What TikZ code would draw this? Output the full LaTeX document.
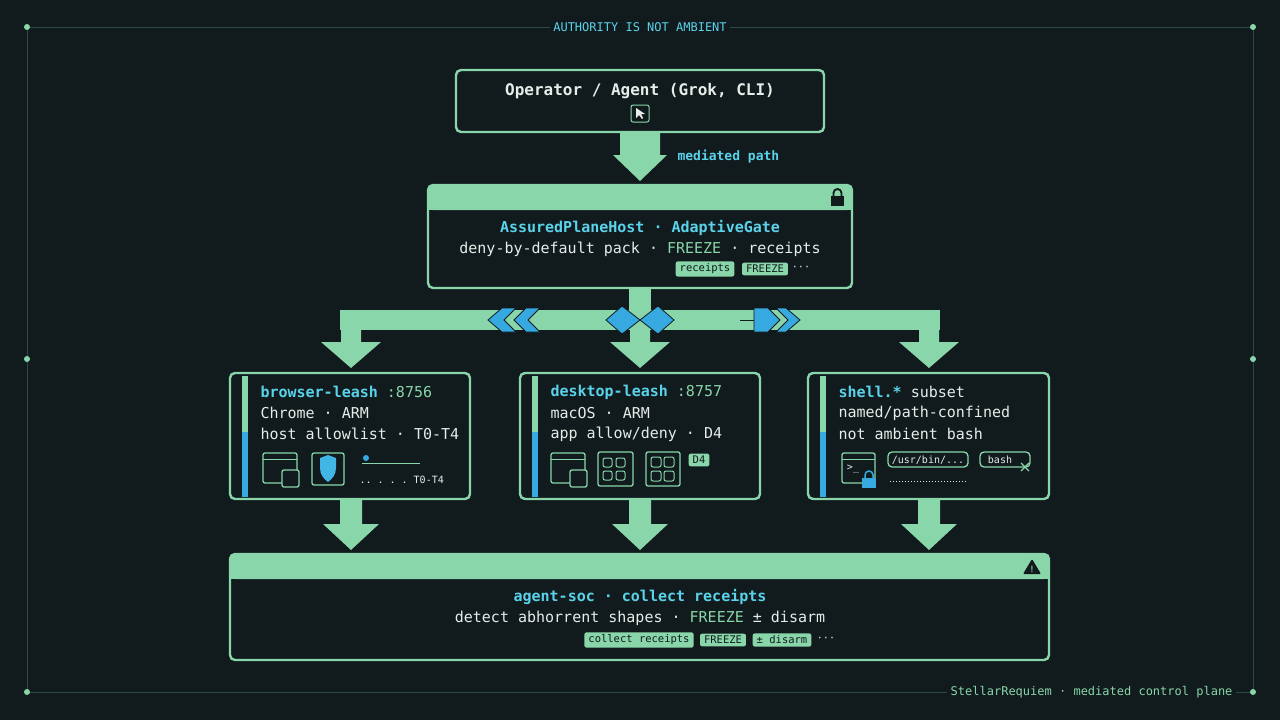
\documentclass[tikz,border=0pt]{standalone}
\usepackage{fontspec}
\setmonofont{DejaVu Sans Mono}
\usetikzlibrary{positioning}
\definecolor{bg}{HTML}{111A1D}
\definecolor{mint}{HTML}{88D6A9}
\definecolor{cyanx}{HTML}{5AD3EA}
\definecolor{bluex}{HTML}{36A9E1}
\definecolor{txt}{HTML}{E6ECE8}
\definecolor{dim}{HTML}{2E4A44}
\tikzset{
  panel/.style={draw=mint,line width=2.4pt,rounded corners=5pt,fill=bg},
  band/.style={fill=mint,rounded corners=5pt},
  fat/.style={fill=mint},
  chip/.style={fill=mint,rounded corners=2pt,text=bg,inner xsep=4pt,inner ysep=2.5pt,font=\ttfamily\fontsize{10.5}{12}\selectfont},
  hd/.style={text=cyanx,font=\ttfamily\bfseries\fontsize{15}{18}\selectfont},
  ln/.style={text=txt,font=\ttfamily\fontsize{15}{18}\selectfont},
  icon/.style={draw=mint,line width=1.3pt,rounded corners=2pt},
  chev/.style={fill=bluex,draw=bg,line width=0.8pt}
}
\begin{document}
\begin{tikzpicture}[x=1pt,y=-1pt]
    \fill[bg] (0,0) rectangle (1280,720);
    \useasboundingbox (0,0) rectangle (1280,720);
    %% frame
        \draw[dim,line width=0.8pt] (27,27) rectangle (1253,692);
        \foreach \p in {(27,27),(1253,27),(27,692),(1253,692),(27,359),(1253,359)}
            \fill[mint] \p circle (3);
        \node[fill=bg,text=cyanx,font=\ttfamily\fontsize{12}{14}\selectfont] (title) at (640,27) {AUTHORITY IS NOT AMBIENT};
        \node[fill=bg,anchor=east,text=mint,font=\ttfamily\fontsize{12}{14}\selectfont] (sign) at (1236,692) {StellarRequiem · mediated control plane};
    %% operator
        \draw[panel] (456,70) rectangle (824,132);
        \node[text=txt,font=\ttfamily\bfseries\fontsize{16}{19}\selectfont] (op) at (640,91) {Operator / Agent (Grok, CLI)};
        \draw[icon,line width=1pt] (631,105) rectangle (649,122);
        \fill[txt] (636,108) -- (636,118) -- (639,115) -- (642,119) -- (643,118) -- (641,114) -- (645,114) -- cycle;
        \fill[fat] (620,132) -- (660,132) -- (660,155) -- (667,155) -- (640,181) -- (613,155) -- (620,155) -- cycle;
        \node[anchor=west,text=cyanx,font=\ttfamily\bfseries\fontsize{13}{15}\selectfont] (med) at (674,157) {mediated path};
    %% gate
        \draw[panel] (428,185) rectangle (852,288);
        \fill[band] (428,185) rectangle (852,210);
        \fill[mint] (428,200) rectangle (852,210);
        \fill[bg] (831,196) rectangle (844,206);
        \draw[bg,line width=1.8pt] (833.5,196) -- (833.5,193) arc (180:360:4) -- (841.5,196);
        \node[hd] (gate) at (640,228) {AssuredPlaneHost · AdaptiveGate};
        \node[ln] (pack) at (640,249) {deny-by-default pack · \textcolor{mint}{FREEZE} · receipts};
        \node[chip] (c1) at (705,269) {receipts};
        \node[chip] (c2) at (765,269) {FREEZE};
        \node[text=txt,font=\ttfamily\fontsize{10}{12}\selectfont] (c3) at (801,268) {···};
    %% bus
        \fill[fat] (629,288) rectangle (651,312);
        \fill[fat] (340,310) rectangle (940,330);
        \foreach \cx in {351,640,929}{
            \fill[fat] (\cx-10,330) -- (\cx+10,330) -- (\cx+10,342) -- (\cx+30,342) -- (\cx,368) -- (\cx-30,342) -- (\cx-10,342) -- cycle;
            \fill[fat] (\cx-11,499) -- (\cx+11,499) -- (\cx+11,524) -- (\cx+28,524) -- (\cx,550) -- (\cx-28,524) -- (\cx-11,524) -- cycle;
        }
        \draw[chev] (488,320) -- (502,308) -- (516,308) -- (504,320) -- (516,332) -- (502,332) -- cycle;
        \draw[chev] (540,308) -- (526,308) -- (514,320) -- (526,332) -- (540,332) -- (528,320) -- cycle;
        \draw[chev] (606,320) -- (622,306) -- (640,320) -- (622,334) -- cycle;
        \draw[chev] (640,320) -- (658,306) -- (674,320) -- (658,334) -- cycle;
        \draw[bg,line width=1pt] (740,320) -- (760,320);
        \draw[chev] (754,308) -- (768,308) -- (780,320) -- (768,332) -- (754,332) -- cycle;
        \draw[chev] (776,308) -- (786,308) -- (800,320) -- (786,332) -- (776,332) -- (788,320) -- cycle;
    %% leashes
        \foreach \x/\w in {230/240,520/240,808/241}{
            \draw[panel] (\x,373) rectangle (\x+\w,499);
            \fill[mint] (\x+12,376) rectangle (\x+18,432);
            \fill[bluex] (\x+12,432) rectangle (\x+18,497);
        }
        \node[anchor=west,hd] (bl) at (257,392) {browser-leash \textcolor{mint}{\mdseries:8756}};
        \node[anchor=west,ln] (bl2) at (257,413) {Chrome · ARM};
        \node[anchor=west,ln] (bl3) at (257,434) {host allowlist · T0-T4};
        \draw[icon] (263,453) rectangle (297,483);
        \draw[mint,line width=1pt] (263,459) -- (297,459);
        \draw[icon,fill=bg] (282,470) rectangle (299,487);
        \draw[icon] (312,453) rectangle (344,485);
        \fill[bluex!70!cyanx] (320,458) -- (328,455) -- (336,458) -- (336,468) .. controls (336,475) and (332,479) .. (328,482) .. controls (324,479) and (320,475) .. (320,468) -- cycle;
        \draw[mint,line width=1pt] (362,463) -- (420,463);
        \fill[bluex] (366,458) circle (3);
        \node[anchor=west,text=txt,font=\ttfamily\fontsize{10}{12}\selectfont] (tt) at (356,480) {.. . . . T0-T4};
        \node[anchor=west,hd] (dl) at (547,392) {desktop-leash \textcolor{mint}{\mdseries:8757}};
        \node[anchor=west,ln] (dl2) at (547,413) {macOS · ARM};
        \node[anchor=west,ln] (dl3) at (547,434) {app allow/deny · D4};
        \draw[icon] (551,453) rectangle (585,483);
        \draw[mint,line width=1pt] (551,459) -- (585,459);
        \draw[icon,fill=bg] (570,470) rectangle (587,487);
        \draw[icon] (598,452) rectangle (633,486);
        \foreach \a/\b in {603/458,616/458,603/471,616/471}
            \draw[icon,line width=1pt] (\a,\b) rectangle (\a+9,\b+9);
        \draw[icon] (646,452) rectangle (680,486);
        \foreach \a/\b in {651/457,664/457,651/471,664/471}
            \draw[icon,line width=1pt] (\a,\b) rectangle (\a+10,\b+10);
        \node[chip] (d4) at (699,460) {D4};
        \node[anchor=west,hd] (sh) at (835,392) {shell.* \textcolor{txt}{\mdseries subset}};
        \node[anchor=west,ln] (sh2) at (835,413) {named/path-confined};
        \node[anchor=west,ln] (sh3) at (835,434) {not ambient bash};
        \draw[icon] (842,453) rectangle (875,483);
        \draw[mint,line width=1pt] (842,459) -- (875,459);
        \node[text=txt,font=\ttfamily\fontsize{10}{12}\selectfont] (pr) at (853,469) {>\_};
        \fill[bluex] (862,478) rectangle (876,488);
        \draw[bluex,line width=1.5pt] (865,478) -- (865,475) arc (180:360:4) -- (873,478);
        \draw[icon,rounded corners=4pt] (888,452) rectangle (968,467);
        \node[text=txt,font=\ttfamily\fontsize{10}{12}\selectfont] (path) at (928,460) {/usr/bin/...};
        \draw[icon,rounded corners=4pt] (980,452) rectangle (1030,467);
        \node[text=txt,font=\ttfamily\fontsize{10}{12}\selectfont] (bash) at (1000,460) {bash};
        \draw[mint,line width=1.3pt] (1021,463) -- (1029,471) (1029,463) -- (1021,471);
        \draw[txt,dotted,line width=1pt] (890,481) -- (966,481);
    %% soc
        \draw[panel] (230,554) rectangle (1049,660);
        \fill[band] (230,554) rectangle (1049,579);
        \fill[mint] (230,570) rectangle (1049,579);
        \fill[bg,rounded corners=1pt] (1032,559) -- (1041,574) -- (1023,574) -- cycle;
        \node[text=mint,font=\sffamily\bfseries\fontsize{9}{10}\selectfont] (warn) at (1032,569) {!};
        \node[hd] (soc) at (640,597) {agent-soc · collect receipts};
        \node[ln] (soc2) at (640,618) {detect abhorrent shapes · \textcolor{mint}{FREEZE} ± disarm};
        \node[chip] (s1) at (639,640) {collect receipts};
        \node[chip] (s2) at (723,640) {FREEZE};
        \node[chip] (s3) at (782,640) {± disarm};
        \node[text=txt,font=\ttfamily\fontsize{10}{12}\selectfont] (s4) at (826,639) {···};
\end{tikzpicture}
\end{document}
